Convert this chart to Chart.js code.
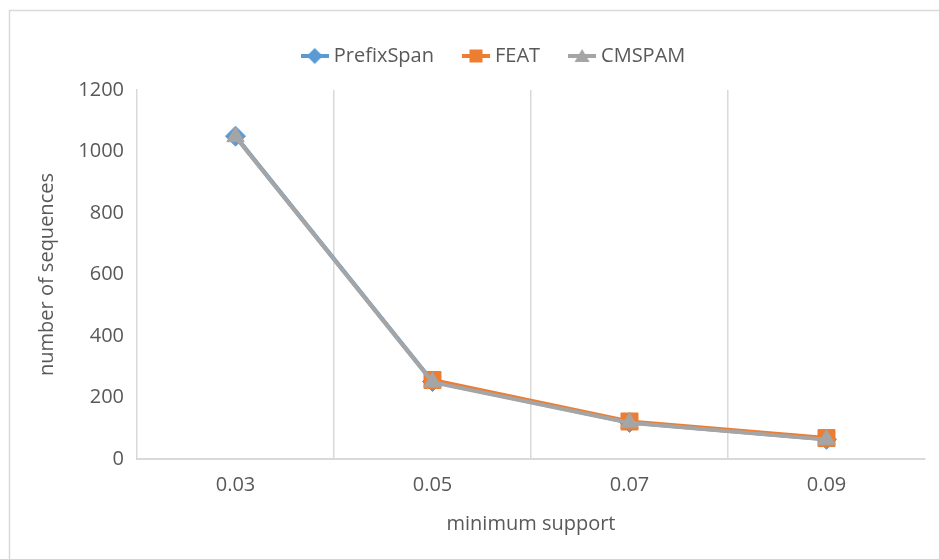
<!DOCTYPE html>
<html>
<head>
<meta charset="utf-8">
<script src="https://cdn.jsdelivr.net/npm/chart.js@4/dist/chart.umd.min.js"></script>
<style>
  html, body { margin: 0; padding: 0; background: #ffffff; }
  #wrap { width: 939px; height: 559px; }
</style>
</head>
<body>
<div id="wrap"><canvas id="chart" width="939" height="559"></canvas></div>
<script>
// Minimum support thresholds and the number of sequences mined by each algorithm
const minSupport = ['0.03', '0.05', '0.07', '0.09'];
const prefixSpan = [1050, 252, 119, 64];
const feat = [null, 257, 122, 68];
const cmspam = [1048, 250, 118, 63];
const yTickValues = [0, 200, 400, 600, 800, 1000, 1200];

const textColor = '#595959';
const gridColor = '#d9d9d9';
const fontSize = 20;
Chart.defaults.font.family = "'Open Sans', 'DejaVu Sans', sans-serif";
Chart.defaults.font.size = fontSize;
Chart.defaults.color = textColor;

// Legend symbol: a short line with the series marker on top
function legendSymbol(color, shape) {
  const c = document.createElement('canvas');
  c.width = 28; c.height = 20;
  const g = c.getContext('2d');
  g.strokeStyle = color;
  g.lineWidth = 4;
  g.beginPath(); g.moveTo(0, 10); g.lineTo(28, 10); g.stroke();
  g.fillStyle = color;
  g.beginPath();
  if (shape === 'diamond') {
    g.moveTo(14, 2); g.lineTo(22, 10); g.lineTo(14, 18); g.lineTo(6, 10);
  } else if (shape === 'square') {
    g.rect(7.5, 3.5, 13, 13);
  } else {
    g.moveTo(14, 3); g.lineTo(21.5, 16); g.lineTo(6.5, 16);
  }
  g.closePath(); g.fill();
  return c;
}

const symbols = [
  legendSymbol('#5B9BD5', 'diamond'),
  legendSymbol('#ED7D31', 'square'),
  legendSymbol('#A5A5A5', 'triangle')
];

// Light frame along the top and left edges, and legend placement
const framePlugin = {
  id: 'frame',
  beforeInit(chart) {
    const legend = chart.legend;
    if (legend) {
      const fit = legend.fit;
      legend.fit = function () { fit.call(this); this.height = 77; };
    }
  },
  afterLayout(chart) {
    if (chart.legend) { chart.legend.left += 33; chart.legend.right += 33; }
  },
  beforeDraw(chart) {
    const ctx = chart.ctx;
    ctx.save();
    ctx.fillStyle = '#ffffff';
    ctx.fillRect(0, 0, chart.width, chart.height);
    ctx.strokeStyle = gridColor;
    ctx.lineWidth = 1.5;
    ctx.beginPath();
    ctx.moveTo(9.5, chart.height); ctx.lineTo(9.5, 10.5); ctx.lineTo(chart.width, 10.5);
    ctx.stroke();
    ctx.restore();
  }
};

new Chart(document.getElementById('chart'), {
  type: 'line',
  data: {
    labels: minSupport,
    datasets: [
      { label: 'PrefixSpan', data: prefixSpan, borderColor: '#5B9BD5', backgroundColor: '#5B9BD5',
        borderWidth: 4, pointStyle: 'rectRot', pointRadius: 10, pointBorderWidth: 1, order: 3 },
      { label: 'FEAT', data: feat, borderColor: '#ED7D31', backgroundColor: '#ED7D31',
        borderWidth: 4, pointStyle: 'rect', pointRadius: 12, pointBorderWidth: 1, order: 2 },
      { label: 'CMSPAM', data: cmspam, borderColor: '#A5A5A5', backgroundColor: '#A5A5A5',
        borderWidth: 4, pointStyle: 'triangle', pointRadius: 10, pointBorderWidth: 1, order: 1 }
    ]
  },
  options: {
    responsive: false,
    animation: false,
    layout: { padding: { top: 13, right: 14, left: 0, bottom: 0 } },
    plugins: {
      tooltip: { enabled: false },
      legend: {
        position: 'top',
        labels: {
          usePointStyle: true,
          pointStyleWidth: 18,
          padding: 33,
          color: textColor,
          font: { size: fontSize },
          sort: (a, b) => a.datasetIndex - b.datasetIndex,
          generateLabels(chart) {
            const items = Chart.defaults.plugins.legend.labels.generateLabels(chart);
            items.forEach(it => { it.pointStyle = symbols[it.datasetIndex]; });
            return items;
          }
        }
      }
    },
    scales: {
      x: {
        type: 'category',
        offset: true,
        grid: {
          offset: true,
          drawTicks: false,
          color: ctx => (ctx.type === 'tick' && ctx.index > 0) ? gridColor : 'rgba(0,0,0,0)',
          lineWidth: 1.5
        },
        border: { display: true, color: gridColor, width: 2 },
        ticks: { color: textColor, font: { size: fontSize }, padding: 14 },
        title: { display: true, text: 'minimum support', color: textColor, font: { size: fontSize },
                 padding: { top: 23, bottom: 23 } },
        afterFit(scale) { scale.height = 100; }
      },
      y: {
        min: 0,
        max: 1200,
        grid: { display: false, drawTicks: false },
        border: { display: true, color: gridColor, width: 1.5 },
        ticks: { color: textColor, font: { size: fontSize }, padding: 13, stepSize: 200,
                 callback: v => String(v) },
        afterBuildTicks(scale) { scale.ticks = yTickValues.map(v => ({ value: v })); },
        title: { display: true, text: 'number of sequences', color: textColor, font: { size: fontSize },
                 padding: { top: 35, bottom: 0 } },
        afterFit(scale) { scale.width = 137; }
      }
    }
  },
  plugins: [framePlugin]
});
</script>
</body>
</html>
